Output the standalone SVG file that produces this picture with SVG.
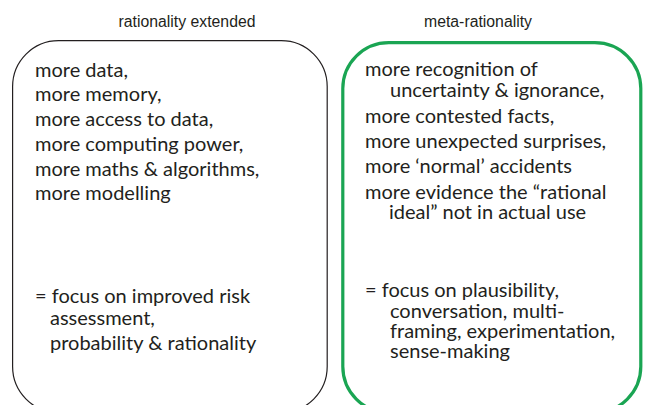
<svg xmlns="http://www.w3.org/2000/svg" width="645" height="405" viewBox="0 0 645 405">
  <style>
    .title { font-family: "Liberation Sans", Arial, sans-serif; font-size: 15.8px; fill: #231f20; text-anchor: middle; }
    .body { font-family: Lato, "Noto Sans", sans-serif; font-size: 20px; fill: #231f20; }
    .box-plain { fill: none; stroke: #231f20; stroke-width: 1.2; }
    .box-green { fill: none; stroke: #1aa553; stroke-width: 3.2; }
  </style>
  <rect width="645" height="405" fill="#ffffff"/>

  <g id="rationality-extended">
    <text class="title" x="187" y="26.5">rationality extended</text>
    <rect class="box-plain" x="12.6" y="40.6" width="314.6" height="372" rx="46" ry="46"/>
    <text class="body" x="35" y="77">more data,</text>
    <text class="body" x="35" y="101">more memory,</text>
    <text class="body" x="35" y="126">more access to data,</text>
    <text class="body" x="35" y="151">more computing power,</text>
    <text class="body" x="35" y="176">more maths &amp; algorithms,</text>
    <text class="body" x="35" y="200">more modelling</text>
    <text class="body" x="35" y="303">= focus on improved risk</text>
    <text class="body" x="50" y="325">assessment,</text>
    <text class="body" x="50" y="350">probability &amp; rationality</text>
  </g>

  <g id="meta-rationality">
    <text class="title" x="478" y="26.5">meta-rationality</text>
    <rect class="box-green" x="342.8" y="42.6" width="298" height="370" rx="46" ry="46"/>
    <text class="body" x="365" y="76">more recognition of</text>
    <text class="body" x="390" y="97">uncertainty &amp; ignorance,</text>
    <text class="body" x="365" y="123">more contested facts,</text>
    <text class="body" x="365" y="148">more unexpected surprises,</text>
    <text class="body" x="365" y="173">more ‘normal’ accidents</text>
    <text class="body" x="365" y="199">more evidence the “rational</text>
    <text class="body" x="389" y="219">ideal” not in actual use</text>
    <text class="body" x="365" y="297">= focus on plausibility,</text>
    <text class="body" x="390" y="318">conversation, multi-</text>
    <text class="body" x="390" y="338">framing, experimentation,</text>
    <text class="body" x="390" y="358">sense-making</text>
  </g>
</svg>
